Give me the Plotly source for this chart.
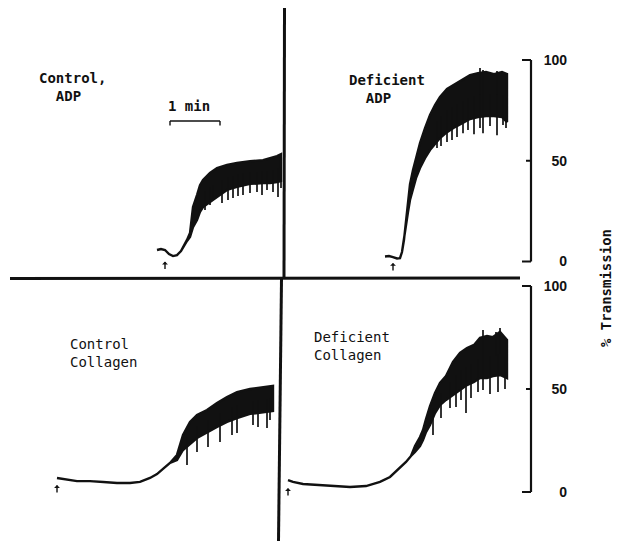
import numpy as np
import plotly.graph_objects as go

W, H = 619, 543

# ---------------- data (time in s after agonist addition, % transmission) ----
# Control, ADP
CA_T  = [-9.6, -4.8, 0, 4.8, 9.6, 14.4, 19.2, 22.8, 26.4, 30, 33.6, 38.4, 42, 45.6, 54, 62.4, 74.4, 86.4, 102, 117.6, 126, 134.4, 139.2]
CA_HI = [5.7, 6.2, 5.7, 3.7, 2.7, 3.2, 5.2, 7.7, 10.7, 14.1, 27.0, 33.0, 37.9, 40.4, 43.9, 46.4, 47.9, 48.9, 49.8, 50.3, 51.3, 52.3, 53.3]
CA_LO = [5.7, 6.2, 5.7, 3.7, 2.7, 3.2, 5.2, 7.7, 10.2, 12.2, 17.1, 20.6, 24.6, 27.0, 29.5, 32.0, 35.5, 37.0, 38.5, 38.9, 38.9, 39.4, 39.9]
CA_SP_T = [48, 54, 57.6, 68.4, 75.6, 81.6, 87.6, 93.6, 102, 110.4, 116.4, 122.4, 129.6, 135.6, 139.2]
CA_SP_V = [25.5, 28.0, 30.5, 29.0, 30.5, 31.5, 32.5, 33.0, 34.0, 34.5, 33.0, 35.5, 34.5, 32.0, 36.5]

# Deficient, ADP
DA_T  = [-9.6, -4.8, 0, 4.8, 8.4, 10.8, 13.2, 15.6, 18, 20.4, 24, 27.6, 32.4, 38.4, 44.4, 50.4, 56.4, 64.8, 74.4, 82.8, 92.4, 102, 111.6, 121.2, 130.8, 136.8]
DA_HI = [2.5, 2.7, 2.2, 1.5, 1.7, 4.7, 10.7, 19.6, 30.5, 38.4, 45.4, 51.8, 58.8, 66.2, 72.7, 77.6, 81.6, 85.6, 88.0, 90.0, 92.5, 93.5, 94.0, 93.0, 94.0, 93.0]
DA_LO = [2.5, 2.7, 2.2, 1.5, 1.7, 4.7, 10.7, 17.6, 24.6, 30.5, 36.5, 41.4, 46.4, 51.3, 55.3, 58.3, 61.3, 64.2, 66.7, 68.7, 70.7, 71.7, 72.2, 72.2, 71.7, 69.2]
DA_SP_T = [52.8, 57.6, 64.8, 70.8, 76.8, 84, 90, 97.2, 104.4, 108, 116.4, 124.8, 132, 135.6, 104.4, 108, 124.8]
DA_SP_V = [56.3, 57.3, 59.3, 60.3, 61.8, 63.7, 65.2, 63.2, 66.2, 63.7, 67.2, 62.7, 67.7, 66.2, 96.0, 95.0, 94.5]

# Control, Collagen
CC_T  = [0, 7.2, 24, 39.6, 55.2, 72, 87.6, 99.6, 111.6, 120, 127.2, 135.6, 144, 151.2, 159.6, 168, 180, 192, 204, 216, 231.6, 247.2, 259.2]
CC_HI = [6.8, 6.3, 5.3, 5.3, 4.9, 4.4, 4.4, 4.9, 6.8, 8.7, 11.2, 14.1, 18.0, 27.7, 34.0, 37.4, 39.8, 43.2, 46.1, 48.5, 50.0, 51.0, 51.5]
CC_LO = [6.8, 6.3, 5.3, 5.3, 4.9, 4.4, 4.4, 4.9, 6.8, 8.7, 11.2, 14.1, 15.5, 20.4, 23.3, 26.2, 29.1, 31.6, 34.0, 35.9, 37.9, 38.8, 39.3]
CC_SP_T = [156, 168, 181.2, 195.6, 210, 216, 235.2, 241.2, 252, 255.6]
CC_SP_V = [13.1, 19.4, 21.8, 24.3, 27.7, 28.6, 32.5, 31.6, 31.1, 35.0]

# Deficient, Collagen
DC_T  = [0, 6, 18, 33.6, 54, 74.4, 93.6, 110.4, 122.4, 134.4, 141.6, 147.6, 152.4, 158.4, 162, 165.6, 170.4, 176.4, 182.4, 189.6, 198, 206.4, 214.8, 223.2, 230.4, 238.8, 246, 254.4, 262.8]
DC_HI = [5.8, 4.9, 3.9, 3.4, 2.9, 2.4, 2.9, 4.9, 7.3, 11.7, 14.6, 17.5, 22.3, 26.7, 30.1, 35.4, 41.7, 48.1, 52.9, 56.3, 63.1, 67.5, 69.9, 71.4, 74.8, 75.7, 75.2, 77.7, 73.8]
DC_LO = [5.8, 4.9, 3.9, 3.4, 2.9, 2.4, 2.9, 4.9, 7.3, 11.7, 14.6, 17.5, 19.4, 22.3, 25.2, 29.1, 32.5, 38.3, 42.2, 44.7, 47.1, 49.5, 51.9, 53.4, 55.3, 55.3, 56.3, 56.8, 55.3]
DC_SP_T = [174, 183.6, 194.4, 201.6, 207.6, 213.6, 219.6, 228, 234, 242.4, 252, 260.4, 234, 254.4, 249.6]
DC_SP_V = [27.7, 35.9, 40.8, 41.3, 44.7, 38.3, 45.6, 48.5, 49.5, 47.6, 48.5, 50.0, 78.6, 79.6, 77.7]

PANEL_LABELS = [["Control,", "  ADP"], ["Deficient", "  ADP"],
                ["Control", "Collagen"], ["Deficient", "Collagen"]]
SCALE_TICKS = [0, 50, 100]
SCALE_BAR_S = 60
Y_TITLE = "% Transmission"

# ---------------- layout helpers ----------------
INK = "#111111"
MONO = "DejaVu Sans Mono"
SPP = 1.2            # seconds per pixel (1 min = 50 px)


def px(x):
    return x / W


def py(y):
    return 1 - y / H


SPLIT_X = 283.0
SPLIT_Y = 279.0
LEFT = [0, SPLIT_X / W]
RIGHT = [SPLIT_X / W, 1]


def xr(t0_px, dom):
    return [(dom[0] * W - t0_px) * SPP, (dom[1] * W - t0_px) * SPP]


fig = go.Figure()

panels = [
    (CA_T, CA_HI, CA_LO, CA_SP_T, CA_SP_V, "x", "y"),
    (DA_T, DA_HI, DA_LO, DA_SP_T, DA_SP_V, "x2", "y"),
    (CC_T, CC_HI, CC_LO, CC_SP_T, CC_SP_V, "x3", "y2"),
    (DC_T, DC_HI, DC_LO, DC_SP_T, DC_SP_V, "x4", "y2"),
]

for T, HI, LO, ST, SV, xa, ya in panels:
    fig.add_trace(go.Scatter(
        x=list(T) + list(T)[::-1], y=list(HI) + list(LO)[::-1],
        mode="lines", fill="toself", fillcolor=INK,
        line=dict(color=INK, width=2.4), xaxis=xa, yaxis=ya,
        hoverinfo="skip", showlegend=False))
    mid = (np.array(HI) + np.array(LO)) / 2
    xs, ys = [], []
    for t, v in zip(ST, SV):
        xs += [t, t, None]
        ys += [v, float(np.interp(t, T, mid)), None]
    fig.add_trace(go.Scatter(
        x=xs, y=ys, mode="lines", line=dict(color=INK, width=1.7),
        xaxis=xa, yaxis=ya, hoverinfo="skip", showlegend=False))

# agonist-addition arrows (t = 0)
arrow_tips = [("x", "y", 0.0), ("x2", "y", -0.7), ("x3", "y2", 3.4), ("x4", "y2", 1.9)]
annotations = []
for xa, ya, tip in arrow_tips:
    annotations.append(dict(x=0, y=tip, xref=xa, yref=ya, ax=0, ay=9,
                            showarrow=True, arrowhead=1, arrowsize=0.7,
                            arrowwidth=1.4, arrowcolor=INK, text=""))

# panel labels (two-line blocks)
label_pos = [(37, 87.5), (347, 89.5), (68, 352.5), (312, 345.5)]
label_weight = ["bold", "bold", "normal", "normal"]
for lines, (lx, ly), wt in zip(PANEL_LABELS, label_pos, label_weight):
    txt = "<br>".join(l.replace(" ", "&nbsp;") for l in lines)
    annotations.append(dict(x=px(lx), y=py(ly), xref="paper", yref="paper",
                            xanchor="left", yanchor="middle", align="left",
                            showarrow=False, text=txt,
                            font=dict(family=MONO, size=14, color=INK, weight=wt)))

annotations.append(dict(x=px(189), y=py(106), xref="paper", yref="paper",
                        xanchor="center", yanchor="middle", showarrow=False,
                        text="1 min", font=dict(family=MONO, size=14, color=INK, weight="bold")))
annotations.append(dict(x=px(606), y=py(288), xref="paper", yref="paper",
                        xanchor="center", yanchor="middle", showarrow=False,
                        textangle=-90, text=Y_TITLE,
                        font=dict(family=MONO, size=14, color=INK, weight="bold")))

shapes = []
# divider lines
shapes.append(dict(type="line", xref="paper", yref="paper",
                   x0=px(284.5), y0=py(8), x1=px(284), y1=py(SPLIT_Y),
                   line=dict(color=INK, width=3)))
shapes.append(dict(type="line", xref="paper", yref="paper",
                   x0=px(281.5), y0=py(SPLIT_Y), x1=px(278.5), y1=py(541),
                   line=dict(color=INK, width=3)))
shapes.append(dict(type="line", xref="paper", yref="paper",
                   x0=px(10), y0=py(278.5), x1=px(520), y1=py(278),
                   line=dict(color=INK, width=3)))

# % transmission brackets
for ya in ["y", "y2"]:
    bx = px(531)
    shapes.append(dict(type="line", xref="paper", yref=ya, x0=bx, x1=bx,
                       y0=SCALE_TICKS[0], y1=SCALE_TICKS[-1],
                       line=dict(color=INK, width=2.2)))
    for v, ln in zip(SCALE_TICKS, [9, 5, 9]):
        shapes.append(dict(type="line", xref="paper", yref=ya, x0=px(531 - ln), x1=bx,
                           y0=v, y1=v, line=dict(color=INK, width=2)))

# 1-min scale bar (on the Control ADP time axis)
bar_t0 = 6
shapes.append(dict(type="line", xref="x", yref="paper", x0=bar_t0, x1=bar_t0 + SCALE_BAR_S,
                   y0=py(121), y1=py(121), line=dict(color=INK, width=1.4)))
for t in [bar_t0, bar_t0 + SCALE_BAR_S]:
    shapes.append(dict(type="line", xref="x", yref="paper", x0=t, x1=t,
                       y0=py(121), y1=py(125.5), line=dict(color=INK, width=1.4)))

TOP_DOM = [1 - SPLIT_Y / H, 1]
BOT_DOM = [0, 1 - SPLIT_Y / H]

hidden_x = dict(visible=False, showgrid=False, zeroline=False, fixedrange=True)
yax_common = dict(showgrid=False, zeroline=False, showline=False, ticks="",
                  tickvals=SCALE_TICKS, anchor="free", side="left",
                  position=px(567),
                  tickfont=dict(family="Liberation Sans", size=14, color=INK, weight="bold"))

fig.update_layout(
    width=W, height=H,
    margin=dict(l=0, r=0, t=0, b=0),
    paper_bgcolor="white", plot_bgcolor="white",
    showlegend=False,
    xaxis=dict(domain=LEFT, range=xr(165, LEFT), anchor="y", **hidden_x),
    xaxis2=dict(domain=RIGHT, range=xr(393, RIGHT), anchor="y", **hidden_x),
    xaxis3=dict(domain=LEFT, range=xr(57, LEFT), anchor="y2", **hidden_x),
    xaxis4=dict(domain=RIGHT, range=xr(288, RIGHT), anchor="y2", **hidden_x),
    yaxis=dict(domain=TOP_DOM, range=[(261.5 - SPLIT_Y) / 2.015, 261.5 / 2.015], **yax_common),
    yaxis2=dict(domain=BOT_DOM, range=[(492 - H) / 2.06, (492 - SPLIT_Y) / 2.06], **yax_common),
    annotations=annotations,
    shapes=shapes,
)

fig.write_html("out.html", config={"displayModeBar": False},
               post_script="document.body.style.margin='0';")
